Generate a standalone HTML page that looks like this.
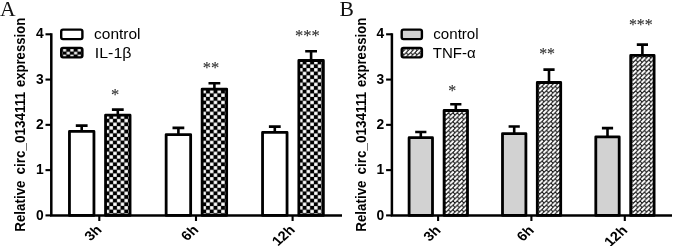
<!DOCTYPE html>
<html><head><meta charset="utf-8"><title>chart</title>
<style>
html,body{margin:0;padding:0;background:#fff;}
svg{display:block;}
text{font-family:"Liberation Sans",Arial,sans-serif;fill:#000;}
.b{font-weight:bold;font-size:13.8px;}
.xl{font-size:13.2px;}
.t{font-weight:bold;font-size:14.2px;}
.l{font-size:15px;}
.st{font-family:"Liberation Serif","Times New Roman",serif;fill:#2b2b2b;stroke:#2b2b2b;stroke-width:0.1px;}
.p{font-family:"Liberation Serif","Times New Roman",serif;font-size:21.6px;fill:#111;}
</style></head><body>
<svg xmlns="http://www.w3.org/2000/svg" width="673" height="246" viewBox="0 0 673 246">
<defs>
<pattern id="pA1" width="7.5" height="7.266" patternUnits="userSpaceOnUse" x="113.1" y="180.6">
<rect width="7.5" height="7.266" fill="#000"/><rect x="0.150" y="0.141" width="3.45" height="3.35" fill="#fff"/><rect x="3.900" y="3.774" width="3.45" height="3.35" fill="#fff"/>
</pattern>
<pattern id="pA2" width="7.5" height="7.266" patternUnits="userSpaceOnUse" x="206.1" y="180.6">
<rect width="7.5" height="7.266" fill="#000"/><rect x="0.150" y="0.141" width="3.45" height="3.35" fill="#fff"/><rect x="3.900" y="3.774" width="3.45" height="3.35" fill="#fff"/>
</pattern>
<pattern id="pA3" width="7.5" height="7.266" patternUnits="userSpaceOnUse" x="302.7" y="180.6">
<rect width="7.5" height="7.266" fill="#000"/><rect x="0.150" y="0.141" width="3.45" height="3.35" fill="#fff"/><rect x="3.900" y="3.774" width="3.45" height="3.35" fill="#fff"/>
</pattern>
<pattern id="pAL" width="7.4" height="5.8" patternUnits="userSpaceOnUse" x="62.7" y="48.75">
<rect width="7.4" height="5.8" fill="#000"/><rect x="0.250" y="0.200" width="3.2" height="2.5" fill="#fff"/><rect x="3.950" y="3.100" width="3.2" height="2.5" fill="#fff"/>
</pattern>
<pattern id="pB1" width="4.4" height="4.4" patternUnits="userSpaceOnUse" x="445.15" y="180.0">
<rect width="4.4" height="4.4" fill="#fff"/><path d="M-1 3.2L3.2 -1M1.2000000000000002 5.4L5.4 1.2000000000000002" stroke="#000" stroke-width="1.05"/><path d="M-1.0 -1.0L1.0 1.0M-1.0 3.4000000000000004L1.0 5.4M3.4000000000000004 -1.0L5.4 1.0M3.4000000000000004 3.4000000000000004L5.4 5.4" stroke="#000" stroke-width="0.95"/>
</pattern>
<pattern id="pB2" width="4.4" height="4.4" patternUnits="userSpaceOnUse" x="538.7" y="179.8">
<rect width="4.4" height="4.4" fill="#fff"/><path d="M-1 3.2L3.2 -1M1.2000000000000002 5.4L5.4 1.2000000000000002" stroke="#000" stroke-width="1.05"/><path d="M-1.0 -1.0L1.0 1.0M-1.0 3.4000000000000004L1.0 5.4M3.4000000000000004 -1.0L5.4 1.0M3.4000000000000004 3.4000000000000004L5.4 5.4" stroke="#000" stroke-width="0.95"/>
</pattern>
<pattern id="pB3" width="4.4" height="4.4" patternUnits="userSpaceOnUse" x="632.3" y="180.0">
<rect width="4.4" height="4.4" fill="#fff"/><path d="M-1 3.2L3.2 -1M1.2000000000000002 5.4L5.4 1.2000000000000002" stroke="#000" stroke-width="1.05"/><path d="M-1.0 -1.0L1.0 1.0M-1.0 3.4000000000000004L1.0 5.4M3.4000000000000004 -1.0L5.4 1.0M3.4000000000000004 3.4000000000000004L5.4 5.4" stroke="#000" stroke-width="0.95"/>
</pattern>
<pattern id="pBL" width="4.4" height="4.4" patternUnits="userSpaceOnUse" x="402.9" y="49.3">
<rect width="4.4" height="4.4" fill="#fff"/><path d="M-1 3.2L3.2 -1M1.2000000000000002 5.4L5.4 1.2000000000000002" stroke="#000" stroke-width="1.05"/><path d="M-1.0 -1.0L1.0 1.0M-1.0 3.4000000000000004L1.0 5.4M3.4000000000000004 -1.0L5.4 1.0M3.4000000000000004 3.4000000000000004L5.4 5.4" stroke="#000" stroke-width="0.95"/>
</pattern>
</defs>
<rect width="673" height="246" fill="#fff"/>
<path d="M51.30 33.20V215.40H342.00" fill="none" stroke="#000" stroke-width="2.5"/>
<path d="M45.50 215.40H51.30" stroke="#000" stroke-width="2.1"/>
<text x="43.70" y="219.50" text-anchor="end" class="b">0</text>
<path d="M45.50 170.12H51.30" stroke="#000" stroke-width="2.1"/>
<text x="43.70" y="174.22" text-anchor="end" class="b">1</text>
<path d="M45.50 124.85H51.30" stroke="#000" stroke-width="2.1"/>
<text x="43.70" y="128.95" text-anchor="end" class="b">2</text>
<path d="M45.50 79.57H51.30" stroke="#000" stroke-width="2.1"/>
<text x="43.70" y="83.67" text-anchor="end" class="b">3</text>
<path d="M45.50 34.30H51.30" stroke="#000" stroke-width="2.1"/>
<text x="43.70" y="38.40" text-anchor="end" class="b">4</text>
<path d="M99.30 215.40V221.00" stroke="#000" stroke-width="2.1"/>
<path d="M81.70 131.40V125.60M75.80 125.60H87.60" stroke="#000" stroke-width="2.6" fill="none"/>
<rect x="69.45" y="131.40" width="24.5" height="84.00" fill="#fff" stroke="#000" stroke-width="2.8" stroke-linejoin="round"/>
<path d="M117.80 115.20V109.60M111.90 109.60H123.70" stroke="#000" stroke-width="2.6" fill="none"/>
<rect x="105.55" y="115.20" width="24.5" height="100.20" fill="url(#pA1)" stroke="#000" stroke-width="2.8" stroke-linejoin="round"/>
<text x="115.20" y="100.45" text-anchor="middle" class="st" font-size="16.5">*</text>
<text transform="translate(102.60 230.50) scale(1.12,1) rotate(-45)" text-anchor="end" class="b xl">3h</text>
<path d="M196.00 215.40V221.00" stroke="#000" stroke-width="2.1"/>
<path d="M178.40 134.60V127.90M172.50 127.90H184.30" stroke="#000" stroke-width="2.6" fill="none"/>
<rect x="166.15" y="134.60" width="24.5" height="80.80" fill="#fff" stroke="#000" stroke-width="2.8" stroke-linejoin="round"/>
<path d="M214.40 89.10V83.20M208.50 83.20H220.30" stroke="#000" stroke-width="2.6" fill="none"/>
<rect x="202.15" y="89.10" width="24.5" height="126.30" fill="url(#pA2)" stroke="#000" stroke-width="2.8" stroke-linejoin="round"/>
<text x="210.90" y="72.85" text-anchor="middle" class="st" font-size="16.5">**</text>
<text transform="translate(199.30 230.50) scale(1.12,1) rotate(-45)" text-anchor="end" class="b xl">6h</text>
<path d="M292.60 215.40V221.00" stroke="#000" stroke-width="2.1"/>
<path d="M274.80 132.40V126.60M268.90 126.60H280.70" stroke="#000" stroke-width="2.6" fill="none"/>
<rect x="262.55" y="132.40" width="24.5" height="83.00" fill="#fff" stroke="#000" stroke-width="2.8" stroke-linejoin="round"/>
<path d="M311.10 60.50V51.30M305.20 51.30H317.00" stroke="#000" stroke-width="2.6" fill="none"/>
<rect x="298.85" y="60.50" width="24.5" height="154.90" fill="url(#pA3)" stroke="#000" stroke-width="2.8" stroke-linejoin="round"/>
<text x="307.40" y="41.35" text-anchor="middle" class="st" font-size="16.5">***</text>
<text transform="translate(295.90 230.50) scale(1.12,1) rotate(-45)" text-anchor="end" class="b xl">12h</text>
<text transform="translate(24.60 231.7) rotate(-90)" class="t" textLength="51.2" lengthAdjust="spacingAndGlyphs">Relative</text>
<text transform="translate(24.60 174.5) rotate(-90)" class="t" textLength="82.6" lengthAdjust="spacingAndGlyphs">circ_0134111</text>
<text transform="translate(24.60 87.1) rotate(-90)" class="t" textLength="69.3" lengthAdjust="spacingAndGlyphs">expression</text>
<rect x="61.20" y="29.6" width="21.2" height="9.5" rx="1.8" fill="#fff" stroke="#000" stroke-width="2.4"/>
<rect x="61.20" y="47.9" width="21.2" height="9.5" rx="1.8" fill="url(#pAL)" stroke="#000" stroke-width="2.4"/>
<text x="94.10" y="39.1" class="l" textLength="46.4" lengthAdjust="spacingAndGlyphs">control</text>
<text x="94.80" y="57.7" class="l" textLength="36.6" lengthAdjust="spacingAndGlyphs">IL-1β</text>
<text x="0.00" y="15.6" class="p">A</text>
<path d="M391.90 33.20V215.40H672.00" fill="none" stroke="#000" stroke-width="2.5"/>
<path d="M386.10 215.40H391.90" stroke="#000" stroke-width="2.1"/>
<text x="384.30" y="219.50" text-anchor="end" class="b">0</text>
<path d="M386.10 170.12H391.90" stroke="#000" stroke-width="2.1"/>
<text x="384.30" y="174.22" text-anchor="end" class="b">1</text>
<path d="M386.10 124.85H391.90" stroke="#000" stroke-width="2.1"/>
<text x="384.30" y="128.95" text-anchor="end" class="b">2</text>
<path d="M386.10 79.57H391.90" stroke="#000" stroke-width="2.1"/>
<text x="384.30" y="83.67" text-anchor="end" class="b">3</text>
<path d="M386.10 34.30H391.90" stroke="#000" stroke-width="2.1"/>
<text x="384.30" y="38.40" text-anchor="end" class="b">4</text>
<path d="M438.10 215.40V221.00" stroke="#000" stroke-width="2.1"/>
<path d="M420.80 137.70V132.00M415.20 132.00H426.40" stroke="#000" stroke-width="2.6" fill="none"/>
<rect x="409.10" y="137.70" width="23.4" height="77.70" fill="#d2d2d2" stroke="#000" stroke-width="2.8" stroke-linejoin="round"/>
<path d="M455.80 110.50V104.30M450.20 104.30H461.40" stroke="#000" stroke-width="2.6" fill="none"/>
<rect x="444.10" y="110.50" width="23.4" height="104.90" fill="url(#pB1)" stroke="#000" stroke-width="2.8" stroke-linejoin="round"/>
<text x="452.30" y="96.37" text-anchor="middle" class="st" font-size="15.9">*</text>
<text transform="translate(441.60 231.10) scale(1.12,1) rotate(-45)" text-anchor="end" class="b xl">3h</text>
<path d="M531.40 215.40V221.00" stroke="#000" stroke-width="2.1"/>
<path d="M514.20 133.60V126.50M508.60 126.50H519.80" stroke="#000" stroke-width="2.6" fill="none"/>
<rect x="502.50" y="133.60" width="23.4" height="81.80" fill="#d2d2d2" stroke="#000" stroke-width="2.8" stroke-linejoin="round"/>
<path d="M549.00 82.50V69.60M543.40 69.60H554.60" stroke="#000" stroke-width="2.6" fill="none"/>
<rect x="537.30" y="82.50" width="23.4" height="132.90" fill="url(#pB2)" stroke="#000" stroke-width="2.8" stroke-linejoin="round"/>
<text x="547.10" y="58.57" text-anchor="middle" class="st" font-size="15.9">**</text>
<text transform="translate(534.90 231.10) scale(1.12,1) rotate(-45)" text-anchor="end" class="b xl">6h</text>
<path d="M624.80 215.40V221.00" stroke="#000" stroke-width="2.1"/>
<path d="M607.50 136.80V128.10M601.90 128.10H613.10" stroke="#000" stroke-width="2.6" fill="none"/>
<rect x="595.80" y="136.80" width="23.4" height="78.60" fill="#d2d2d2" stroke="#000" stroke-width="2.8" stroke-linejoin="round"/>
<path d="M642.40 55.40V44.60M636.80 44.60H648.00" stroke="#000" stroke-width="2.6" fill="none"/>
<rect x="630.70" y="55.40" width="23.4" height="160.00" fill="url(#pB3)" stroke="#000" stroke-width="2.8" stroke-linejoin="round"/>
<text x="640.80" y="29.87" text-anchor="middle" class="st" font-size="15.9">***</text>
<text transform="translate(628.30 231.10) scale(1.12,1) rotate(-45)" text-anchor="end" class="b xl">12h</text>
<text transform="translate(365.90 231.7) rotate(-90)" class="t" textLength="51.2" lengthAdjust="spacingAndGlyphs">Relative</text>
<text transform="translate(365.90 174.5) rotate(-90)" class="t" textLength="82.6" lengthAdjust="spacingAndGlyphs">circ_0134111</text>
<text transform="translate(365.90 87.1) rotate(-90)" class="t" textLength="69.3" lengthAdjust="spacingAndGlyphs">expression</text>
<rect x="401.70" y="29.6" width="20.2" height="9.5" rx="1.8" fill="#d2d2d2" stroke="#000" stroke-width="2.4"/>
<rect x="401.70" y="47.9" width="20.2" height="9.5" rx="1.8" fill="url(#pBL)" stroke="#000" stroke-width="2.4"/>
<text x="433.30" y="39.1" class="l" textLength="45.3" lengthAdjust="spacingAndGlyphs">control</text>
<text x="432.70" y="57.7" class="l" textLength="43.0" lengthAdjust="spacingAndGlyphs">TNF-α</text>
<text x="339.60" y="15.6" class="p">B</text>
</svg>
</body></html>
